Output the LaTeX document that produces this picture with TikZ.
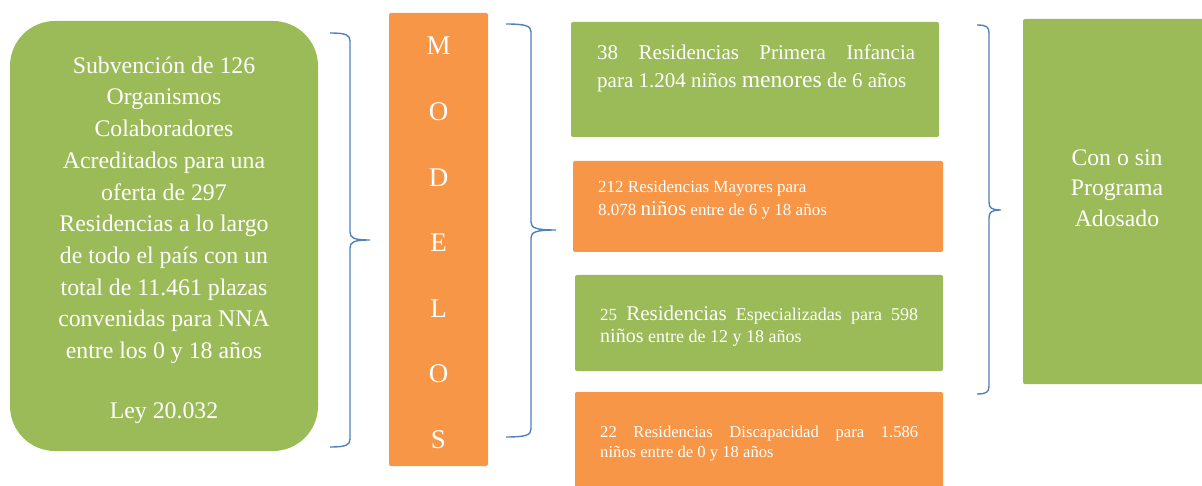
\documentclass[tikz,border=0pt]{standalone}
\usepackage{fontspec}
\setmainfont{Liberation Serif}
\definecolor{boxgreen}{HTML}{9BBB59}
\definecolor{boxorange}{HTML}{F79646}
\definecolor{braceblue}{HTML}{4F81BD}

\begin{document}
\begin{tikzpicture}[
    x=1pt, y=-1pt,
    green box/.style={rectangle, fill=boxgreen, rounded corners=2pt, inner sep=0pt},
    orange box/.style={rectangle, fill=boxorange, rounded corners=2pt, inner sep=0pt},
    box text/.style={text=white, inner sep=0pt, anchor=base west},
    letter/.style={text=white, inner sep=0pt, font=\fontsize{27}{27}\selectfont},
    curly/.style={draw=braceblue, line width=1.4pt}
  ]

  \useasboundingbox (0,0) rectangle (1202,486);
  \clip (0,0) rectangle (1202,486);

  % left block
  \node[green box, rounded corners=45pt, minimum width=308pt, minimum height=430pt] (grant) at (164,236) {};
  \node[text=white, align=center, font=\fontsize{23.8}{31.7}\selectfont] (granttxt) at (164,240)
    {Subvención de 126\\ Organismos\\ Colaboradores\\ Acreditados para una\\ oferta de 297\\
     Residencias a lo largo\\ de todo el país con un\\ total de 11.461 plazas\\
     convenidas para NNA\\ entre los 0 y 18 años\\[28pt] Ley 20.032};

  % column with the word
  \node[orange box, minimum width=99pt, minimum height=453pt] (models) at (438.5,239.5) {};
  \foreach \l [count=\i] in {M,O,D,E,L,O,S}
    \node[letter] (m\i) at (438.5,{46+65.6*(\i-1)}) {\l};

  % the four kinds of residences
  \node[green box, minimum width=368pt, minimum height=115pt] (r1) at (755,79.5) {};
  \node[orange box, minimum width=370pt, minimum height=91pt] (r2) at (758,206.5) {};
  \node[green box, minimum width=368pt, minimum height=96pt] (r3) at (759,323) {};
  \node[orange box, minimum width=368pt, minimum height=108pt] (r4) at (759,446) {};

  \node[box text] (r1txt) at (597,60) {\parbox[t]{318pt}{\fontsize{21}{28}\selectfont
    38 Residencias Primera Infancia\linebreak para 1.204 niños
    {\fontsize{23.6}{28}\selectfont menores} de 6 años}};
  \node[box text] (r2txt) at (598,193) {\parbox[t]{318pt}{\fontsize{17}{23}\selectfont
    212 Residencias Mayores para\\ 8.078 {\fontsize{21}{23}\selectfont niños} entre de 6 y 18 años}};
  \node[box text] (r3txt) at (600,320) {\parbox[t]{318pt}{\fontsize{18}{22}\selectfont
    {\fontsize{17}{22}\selectfont 25} {\fontsize{21}{22}\selectfont Residencias} Especializadas para 598\linebreak
    {\fontsize{20}{22}\selectfont niños} entre de 12 y 18 años}};
  \node[box text] (r4txt) at (600,437) {\parbox[t]{318pt}{\fontsize{16.6}{20}\selectfont
    22 Residencias Discapacidad para 1.586\linebreak niños entre de 0 y 18 años}};

  % right block
  \node[green box, minimum width=189pt, minimum height=365pt] (annex) at (1117.5,201.5) {};
  \node[text=white, align=center, font=\fontsize{23.7}{30.5}\selectfont] (annextxt) at (1117,188)
    {Con o sin\\ Programa\\ Adosado};

  % braces: left end x / half width / top / bottom / tip
  \foreach \x/\w/\t/\b/\m in {330/20/33/447/240, 506/25/24/437/230, 977/12/25/394/210}
    \draw[curly] (\x,\t) .. controls ({\x+0.8*\w},\t) and ({\x+\w},{\t+2}) .. ({\x+\w},{\t+8})
      -- ({\x+\w},{\m-8}) .. controls ({\x+\w},{\m-2}) and ({\x+1.2*\w},\m) .. ({\x+2*\w},\m)
      .. controls ({\x+1.2*\w},\m) and ({\x+\w},{\m+2}) .. ({\x+\w},{\m+8})
      -- ({\x+\w},{\b-8}) .. controls ({\x+\w},{\b-2}) and ({\x+0.8*\w},\b) .. (\x,\b);

\end{tikzpicture}
\end{document}
